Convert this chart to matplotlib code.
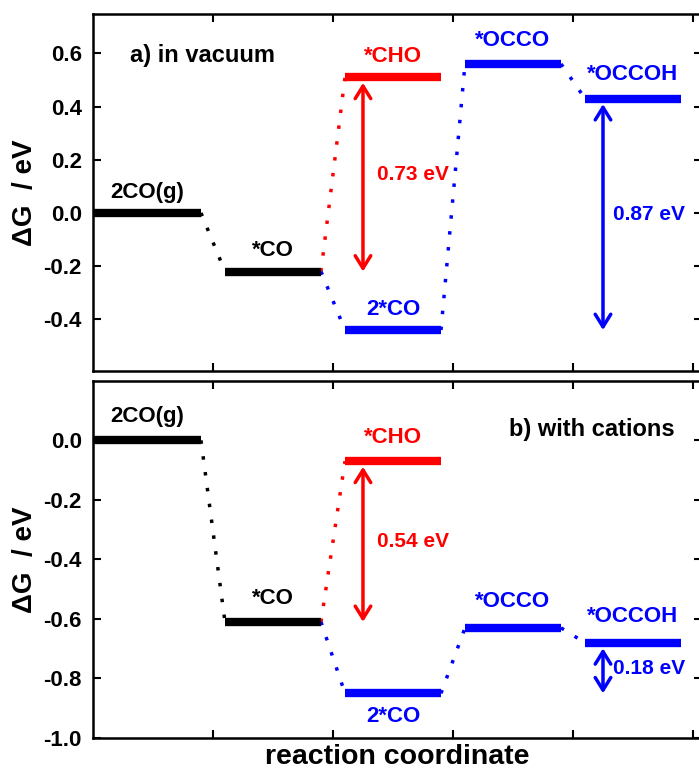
import matplotlib
matplotlib.use("Agg")
import matplotlib.pyplot as plt

# free energy levels (eV) for each intermediate
states = ['2CO(g)', '*CO', '*CHO', '2*CO', '*OCCO', '*OCCOH']
slots = [0, 1, 2, 2, 3, 4]
state_colors = ['black', 'black', 'red', 'blue', 'blue', 'blue']
G_vacuum = [0.0, -0.22, 0.51, -0.44, 0.56, 0.43]
G_cations = [0.0, -0.61, -0.07, -0.85, -0.63, -0.68]

# dotted links between states (from, to)
links = [(0, 1), (1, 2), (1, 3), (3, 4), (4, 5)]

# barrier arrows: (upper state, lower state, label)
barriers_vacuum = [(2, 1, '0.73 eV'), (5, 3, '0.87 eV')]
barriers_cations = [(2, 1, '0.54 eV'), (5, 3, '0.18 eV')]

plt.rcParams['font.family'] = ['Liberation Sans', 'DejaVu Sans']
plt.rcParams['font.weight'] = 'bold'

fig = plt.figure(figsize=(6.99, 7.73), dpi=100)
ax1 = fig.add_axes([0.133, 0.520, 0.8713, 0.462])
ax2 = fig.add_axes([0.133, 0.0453, 0.8713, 0.462])


def bar_span(i):
    s = slots[i]
    left = 0.0 if s == 0 else s + 0.1
    return left, s + 0.9


def draw_panel(ax, G, barriers, below=(), lift=11):
    for a, b in links:
        x0 = bar_span(a)[1]
        x1 = bar_span(b)[0]
        ax.plot([x0, x1], [G[a], G[b]], color=state_colors[b], lw=2.5,
                linestyle=(0, (1, 3.6)), zorder=2)
    for i, name in enumerate(states):
        l, r = bar_span(i)
        ax.plot([l, r], [G[i], G[i]], color=state_colors[i], lw=6,
                solid_capstyle='butt', zorder=3)
        xc = (l + r) / 2
        if i in below:
            ax.annotate(name, (xc, G[i]), xytext=(0, -9), textcoords='offset points',
                        ha='center', va='top', color=state_colors[i],
                        fontsize=16, fontweight='bold')
        else:
            dy = lift + (2 if i >= 4 else 0)
            ax.annotate(name, (xc, G[i]), xytext=(0, dy), textcoords='offset points',
                        ha='center', va='baseline', color=state_colors[i],
                        fontsize=16, fontweight='bold')
    for hi, lo, txt in barriers:
        x = slots[hi] + 0.25
        c = state_colors[hi]
        ax.annotate('', xy=(x, G[lo]), xytext=(x, G[hi]),
                    arrowprops=dict(arrowstyle='<->,head_length=0.45,head_width=0.28',
                                    color=c, lw=2.5, shrinkA=4, shrinkB=0,
                                    mutation_scale=20))
        dx = 0.12 if slots[hi] == 2 else 0.08
        ax.text(x + dx, (G[hi] + G[lo]) / 2, txt, color=c, fontsize=15,
                fontweight='bold', ha='left', va='center')

    ax.set_xlim(0, 5.075)
    ax.set_xticks([1, 2, 3, 4, 5])
    ax.set_xticklabels([])
    ax.tick_params(direction='in', length=6, width=1.5, top=True, right=True,
                   labelsize=16)
    ax.tick_params(axis='x', pad=2)
    ax.tick_params(axis='y', pad=8)
    for sp in ax.spines.values():
        sp.set_linewidth(1.8)
    ax.set_ylabel('ΔG  / eV', fontsize=20, fontweight='bold', labelpad=4)


draw_panel(ax1, G_vacuum, barriers_vacuum)
ax1.set_ylim(-0.594, 0.748)
ax1.set_yticks([-0.4, -0.2, 0.0, 0.2, 0.4, 0.6])
ax1.set_yticklabels(['-0.4', '-0.2', '0.0', '0.2', '0.4', '0.6'], fontweight='bold')
ax1.text(0.31, 0.59, 'a) in vacuum', fontsize=17, fontweight='bold', va='center')

draw_panel(ax2, G_cations, barriers_cations, below=(3,), lift=13)
ax2.set_ylim(-1.0, 0.2)
ax2.set_yticks([-1.0, -0.8, -0.6, -0.4, -0.2, 0.0])
ax2.set_yticklabels(['-1.0', '-0.8', '-0.6', '-0.4', '-0.2', '0.0'], fontweight='bold')
ax2.text(4.85, 0.036, 'b) with cations', fontsize=17, fontweight='bold',
         ha='right', va='center')
ax2.set_xlabel('reaction coordinate', fontsize=20.5, fontweight='bold', labelpad=2)

fig.savefig('out.png', dpi=100)
